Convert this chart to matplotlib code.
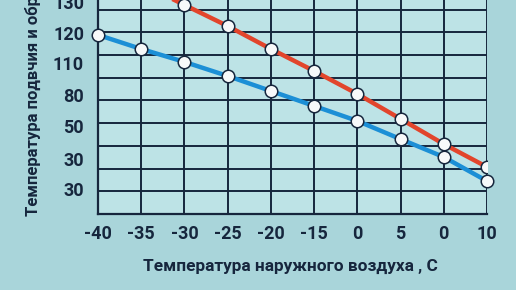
import matplotlib
matplotlib.use("Agg")
import matplotlib.pyplot as plt

# Data (y in chart grid units: one unit = one horizontal grid step, 0 = x-axis)
x_labels = ["-40", "-35", "-30", "-25", "-20", "-15", "0", "5", "0", "10"]
x_pos = list(range(len(x_labels)))
supply = [11.1, 10.15, 9.21, 8.28, 7.27, 6.30, 5.29, 4.19, 3.08, 2.07]
return_ = [7.89, 7.27, 6.70, 6.08, 5.42, 4.76, 4.10, 3.30, 2.51, 1.45]
y_tick_labels = ["30", "30", "50", "80", "110", "120", "130"]
y_tick_pos = [1.10, 2.42, 3.88, 5.24, 6.65, 7.97, 9.34]
grid_rows = [1, 2, 3, 4, 5, 6, 7, 8, 9]

FIG_BG = "#a9d5da"
AX_BG = "#bde3e6"
INK = "#16263d"
RED = "#e2452c"
BLUE = "#1c8fd6"

plt.rcParams["font.family"] = ["Roboto", "DejaVu Sans"]

fig = plt.figure(figsize=(5.16, 2.90), dpi=100, facecolor=FIG_BG)
ax = fig.add_axes([98 / 516, 76 / 290, (487 - 98) / 516, 214 / 290])
ax.set_facecolor(AX_BG)

ax.set_xlim(0, 9)
ax.set_ylim(0, 214 / 22.7)

# grid
for gx in x_pos[1:]:
    ax.axvline(gx, color=INK, lw=1.4, zorder=1)
for gy in grid_rows:
    ax.axhline(gy, color=INK, lw=1.4, zorder=1)

ax.plot(x_pos, supply, color=RED, lw=3.2, zorder=3, solid_capstyle="butt",
        marker="o", ms=9, mfc="#f7f9fa", mec=INK, mew=1.1, clip_on=True)
ax.plot(x_pos, return_, color=BLUE, lw=3.2, zorder=3, solid_capstyle="butt",
        marker="o", ms=9, mfc="#f7f9fa", mec=INK, mew=1.1, clip_on=False)

for s in ["top", "right"]:
    ax.spines[s].set_visible(False)
for s in ["left", "bottom"]:
    ax.spines[s].set_color(INK)
    ax.spines[s].set_linewidth(1.6)

ax.set_xticks(x_pos)
ax.set_xticklabels(x_labels, fontsize=13, fontweight="bold", color=INK)
ax.set_yticks(y_tick_pos)
ax.set_yticklabels(y_tick_labels, fontsize=13, fontweight="bold", color=INK)
ax.tick_params(length=0)
ax.tick_params(axis="y", pad=10)
ax.tick_params(axis="x", pad=8)

fig.text(290 / 516, 1 - 266 / 290, "Температура наружного воздуха , С", ha="center",
         va="center", fontsize=12.4, fontweight="bold", color=INK)
fig.text(33 / 516, 1 - 216 / 290, "Температура подвчия и обратки", rotation=90,
         ha="center", va="bottom", fontsize=12, fontweight="bold", color=INK)

fig.savefig("out.png", dpi=100, facecolor=FIG_BG)
